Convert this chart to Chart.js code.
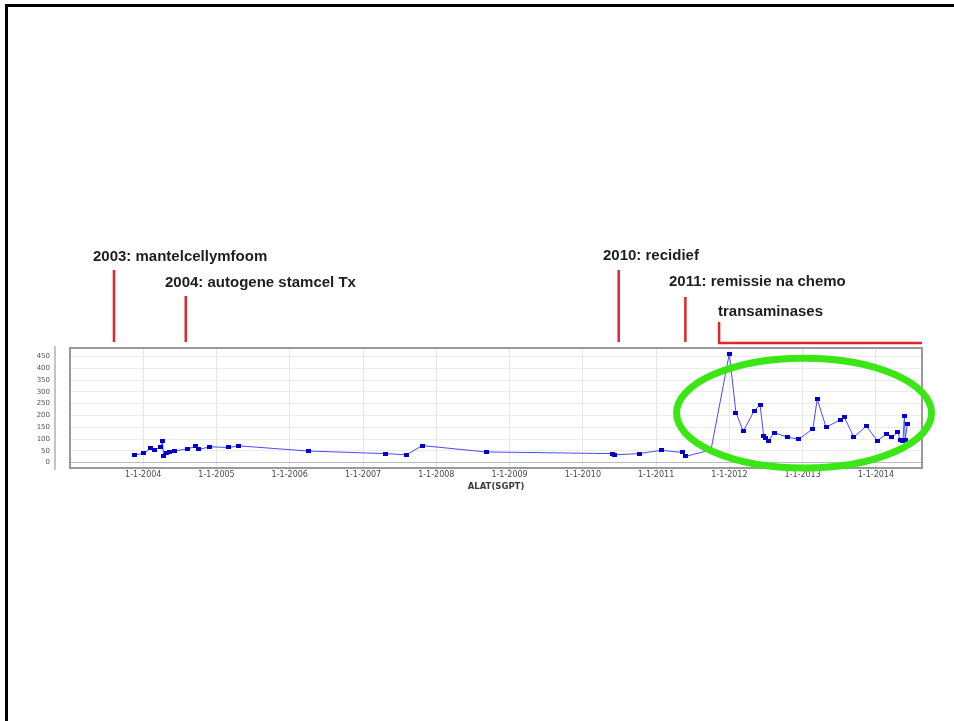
<!DOCTYPE html>
<html>
<head>
<meta charset="utf-8">
<style>
  html, body { margin: 0; padding: 0; background: #ffffff; overflow: hidden; }
  #frame {
    position: absolute; left: 5px; top: 4px; width: 960px; height: 730px;
    border-left: 3px solid #000; border-top: 3px solid #000;
  }
  #chart { position: absolute; left: 0; top: 0; }
  .note {
    position: absolute; font-family: 'Liberation Sans', Arial, sans-serif;
    font-weight: bold; font-size: 15px; line-height: 18px; color: #1e1e1e; white-space: nowrap;
  }
</style>
</head>
<body>
<div id="frame"></div>
<canvas id="chart" width="954" height="721"></canvas>
<div class="note" style="left:93px; top:247px;">2003: mantelcellymfoom</div>
<div class="note" style="left:165px; top:273px;">2004: autogene stamcel Tx</div>
<div class="note" style="left:603px; top:246px;">2010: recidief</div>
<div class="note" style="left:669px; top:272px;">2011: remissie na chemo</div>
<div class="note" style="left:718px; top:302px;">transaminases</div>

<script src="https://cdn.jsdelivr.net/npm/chart.js@4"></script>
<script>
// ALAT measurements: date as decimal year, value in U/l
var dates = [2003.88, 2004.01, 2004.10, 2004.16, 2004.24, 2004.26, 2004.28, 2004.32, 2004.36, 2004.42,
             2004.61, 2004.71, 2004.76, 2004.91, 2005.17, 2005.30, 2006.25, 2007.31, 2007.59, 2007.81,
             2008.68, 2010.40, 2010.43, 2010.77, 2011.07, 2011.36, 2011.40, 2011.75, 2012.00, 2012.09,
             2012.19, 2012.34, 2012.42, 2012.47, 2012.49, 2012.53, 2012.61, 2012.80, 2012.95, 2013.14,
             2013.20, 2013.32, 2013.52, 2013.57, 2013.70, 2013.87, 2014.02, 2014.14, 2014.22, 2014.30,
             2014.33, 2014.37, 2014.39, 2014.40, 2014.43];
var alat  = [32, 39, 61, 54, 67, 90, 29, 39, 46, 49,
             58, 69, 56, 67, 64, 71, 49, 38, 33, 72,
             45, 38, 33, 38, 52, 43, 26, 54, 462, 212,
             133, 220, 244, 111, 104, 90, 127, 107, 100, 143,
             270, 150, 182, 192, 108, 155, 93, 120, 108, 130,
             97, 93, 198, 97, 162];
var yearTicks = [2004, 2005, 2006, 2007, 2008, 2009, 2010, 2011, 2012, 2013, 2014];
var valueTicks = [0, 50, 100, 150, 200, 250, 300, 350, 400, 450];

// red event markers (decimal year, how far above the plot the line starts)
var eventDates = [2003.60, 2004.58, 2010.49, 2011.40];
var eventRise  = [78, 52, 78, 51];
var transStart = 2011.86;

var points = dates.map(function (d, i) { return { x: d, y: alat[i] }; });

// small flat marker like the lab system's plot
var marker = document.createElement('canvas');
marker.width = 5; marker.height = 4;
var mctx = marker.getContext('2d');
mctx.fillStyle = '#0000c8';
mctx.fillRect(0, 0, 5, 4);

var decor = {
  id: 'decor',
  afterDraw: function (chart) {
    var c = chart.ctx, a = chart.chartArea, xs = chart.scales.x, ys = chart.scales.y;
    c.save();
    // plot box
    c.strokeStyle = '#9a9a9a'; c.lineWidth = 2;
    c.strokeRect(a.left, a.top, a.right - a.left, a.bottom - a.top);
    // detached y axis line
    c.strokeStyle = '#b0b0b0'; c.lineWidth = 1.5;
    c.beginPath(); c.moveTo(a.left - 15, a.top - 2); c.lineTo(a.left - 15, a.bottom + 2); c.stroke();
    // event lines
    c.strokeStyle = '#e0262b'; c.lineWidth = 2.5;
    eventDates.forEach(function (d, i) {
      var px = xs.getPixelForValue(d);
      c.beginPath(); c.moveTo(px, a.top - eventRise[i]); c.lineTo(px, a.top - 6); c.stroke();
    });
    var tx = xs.getPixelForValue(transStart);
    c.beginPath(); c.moveTo(tx, a.top - 26); c.lineTo(tx, a.top - 5); c.lineTo(a.right, a.top - 5); c.stroke();
    // green ellipse around the transaminases period
    var cx = xs.getPixelForValue(2013.02), cy = ys.getPixelForValue(210);
    var rx = xs.getPixelForValue(2013.02 + 1.74) - cx, ry = cy - ys.getPixelForValue(210 + 233);
    c.strokeStyle = '#3ae614'; c.lineWidth = 7;
    c.beginPath(); c.ellipse(cx, cy, rx, ry, 0, 0, Math.PI * 2); c.stroke();
    c.restore();
  }
};

new Chart(document.getElementById('chart'), {
  type: 'line',
  data: {
    datasets: [{
      label: 'ALAT(SGPT)',
      data: points,
      borderColor: '#4a4aff',
      borderWidth: 1,
      pointStyle: marker,
      pointRadius: 3,
      tension: 0
    }]
  },
  options: {
    responsive: false,
    animation: false,
    layout: { padding: { left: 20, right: 32, top: 348, bottom: 229 } },
    plugins: { legend: { display: false }, tooltip: { enabled: false } },
    scales: {
      x: {
        type: 'linear', min: 2003.0, max: 2014.63,
        afterBuildTicks: function (s) { s.ticks = yearTicks.map(function (v) { return { value: v }; }); },
        afterFit: function (s) { s.height = 24; },
        border: { display: false },
        grid: { color: '#e6e6e6', tickLength: 2, tickColor: '#c8c8c8' },
        ticks: {
          padding: 0, color: '#4a4a4a', maxRotation: 0, autoSkip: false,
          font: { family: 'DejaVu Sans', size: 8 },
          callback: function (v) { return '1-1-' + v; }
        },
        title: {
          display: true, text: 'ALAT(SGPT)', color: '#3a3a3a', padding: 0,
          font: { family: 'DejaVu Sans', size: 8.5, weight: 'bold' }
        }
      },
      y: {
        min: -23, max: 486,
        afterBuildTicks: function (s) { s.ticks = valueTicks.map(function (v) { return { value: v }; }); },
        afterFit: function (s) { s.width = 50; },
        border: { display: false },
        grid: {
          drawTicks: false,
          color: function (ctx) { return ctx.tick && ctx.tick.value === 0 ? '#bdbdbd' : '#ececec'; }
        },
        ticks: { padding: 20, color: '#555', font: { family: 'DejaVu Sans', size: 7 } }
      }
    }
  },
  plugins: [decor]
});
</script>
</body>
</html>
